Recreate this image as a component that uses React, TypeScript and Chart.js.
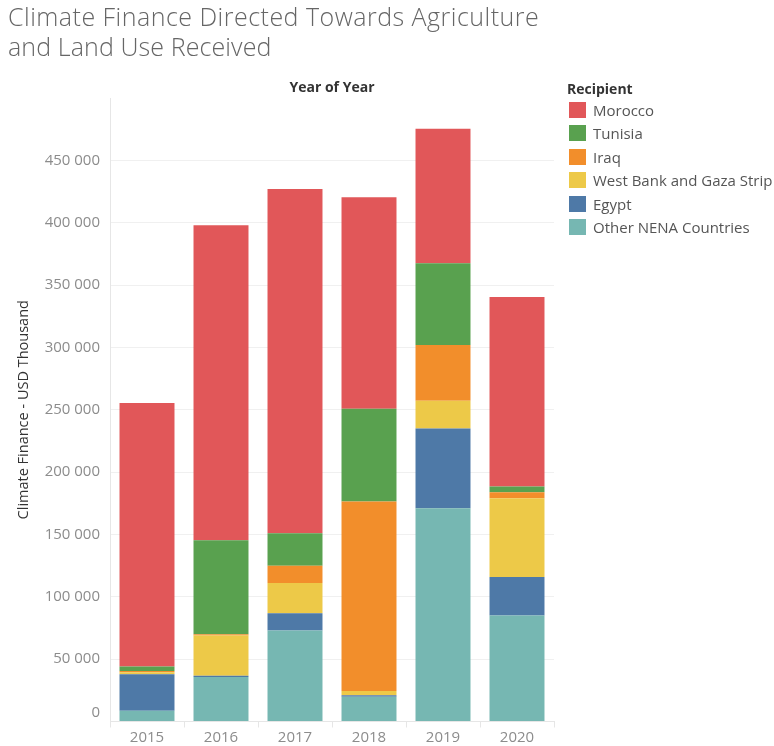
import React, { useEffect, useRef } from "react";
import { Chart, registerables } from "chart.js";

Chart.register(...registerables);

const years = ["2015", "2016", "2017", "2018", "2019", "2020"];

// stacked bottom → top
const otherNena = [8700, 35600, 73000, 19800, 171000, 85000];
const egypt = [29100, 1100, 13800, 1200, 64000, 30800];
const westBank = [1600, 32300, 24200, 3400, 22200, 63200];
const iraq = [1000, 1000, 14000, 152000, 44800, 4800];
const tunisia = [3800, 75400, 26000, 74400, 65400, 4600];
const morocco = [211200, 252600, 276000, 169600, 108000, 152000];

const seriesNames = ["Other NENA Countries", "Egypt", "West Bank and Gaza Strip", "Iraq", "Tunisia", "Morocco"];
const seriesValues = [otherNena, egypt, westBank, iraq, tunisia, morocco];
const seriesColors = ["#76b7b2", "#4e79a7", "#edc948", "#f28e2b", "#59a14f", "#e15759"];

const yMax = 500000;
const yStep = 50000;

const FONT = "'Open Sans', 'Noto Sans', sans-serif";

function fmt(v: number): string {
  return String(v).replace(/\B(?=(\d{3})+(?!\d))/g, " ");
}

export default function App() {
  const ref = useRef<HTMLCanvasElement | null>(null);

  useEffect(() => {
    if (!ref.current) return;
    const chart = new Chart(ref.current, {
      type: "bar",
      data: {
        labels: years,
        datasets: seriesNames.map((name, i) => ({
          label: name,
          data: seriesValues[i],
          backgroundColor: seriesColors[i],
          borderWidth: 0,
          categoryPercentage: 1,
          barPercentage: 0.743,
        })),
      },
      options: {
        animation: false,
        responsive: true,
        maintainAspectRatio: false,
        layout: { padding: { left: 9, right: 220, top: 98, bottom: 0 } },
        plugins: {
          legend: { display: false },
          tooltip: { enabled: false },
          title: { display: false },
        },
        scales: {
          x: {
            stacked: true,
            grid: {
              display: true,
              offset: true,
              drawOnChartArea: false,
              drawTicks: true,
              tickLength: 6,
              color: "#e6e6e6",
            },
            border: { display: true, color: "#e6e6e6" },
            ticks: {
              color: "#8c8c8c",
              font: { family: FONT, size: 15 },
              padding: 1,
            },
            afterFit: (scale: any) => {
              scale.height = 24.5;
            },
          },
          y: {
            stacked: true,
            min: 0,
            max: yMax,
            grid: {
              drawTicks: true,
              tickLength: 10,
              tickColor: "rgba(0,0,0,0)",
              color: (ctx: any) =>
                ctx.tick && (ctx.tick.value === 0 || ctx.tick.value === yMax) ? "rgba(0,0,0,0)" : "#f0f0f0",
            },
            border: { display: true, color: "#e6e6e6" },
            ticks: {
              stepSize: yStep,
              color: "#8c8c8c",
              font: { family: FONT, size: 15 },
              padding: 0,
              callback: (v: any) => {
                const n = Number(v);
                if (n === yMax) return "";
                if (n === 0) return ["0", ""];
                return fmt(n);
              },
            },
            title: {
              display: true,
              text: "Climate Finance - USD Thousand",
              color: "#333",
              font: { family: FONT, size: 14.5 },
              padding: { top: 6, bottom: 0 },
            },
            afterFit: (scale: any) => {
              scale.width = 101;
            },
          },
        },
      },
    });
    return () => chart.destroy();
  }, []);

  const legendOrder = seriesNames.map((n, i) => ({ name: n, color: seriesColors[i] })).reverse();

  return (
    <div style={{ position: "absolute", left: 0, top: 0, width: 774, height: 746, background: "#fff", fontFamily: FONT }}>
      <canvas ref={ref} style={{ position: "absolute", left: 0, top: 0 }} />
      <div
        style={{
          position: "absolute",
          left: 8,
          top: 1,
          fontSize: 25,
          lineHeight: "30px",
          color: "#666",
          fontWeight: 300,
          whiteSpace: "nowrap",
        }}
      >
        <div style={{ letterSpacing: 0.48 }}>Climate Finance Directed Towards Agriculture</div>
        <div style={{ letterSpacing: 0.1 }}>and Land Use Received</div>
      </div>
      <div
        style={{
          position: "absolute",
          left: 232,
          width: 200,
          top: 77,
          textAlign: "center",
          fontSize: 14,
          fontWeight: 700,
          color: "#333",
          lineHeight: "19px",
        }}
      >
        Year of Year
      </div>
      <div style={{ position: "absolute", left: 567, top: 79 }}>
        <div style={{ fontSize: 14, fontWeight: 700, color: "#333", lineHeight: "19px", marginBottom: 0 }}>Recipient</div>
        {legendOrder.map((item) => (
          <div key={item.name} style={{ display: "flex", alignItems: "center", height: 23.5 }}>
            <div style={{ width: 17, height: 16, background: item.color, marginLeft: 2, marginRight: 7 }} />
            <span style={{ fontSize: 15, color: "#555", whiteSpace: "nowrap" }}>{item.name}</span>
          </div>
        ))}
      </div>
    </div>
  );
}
